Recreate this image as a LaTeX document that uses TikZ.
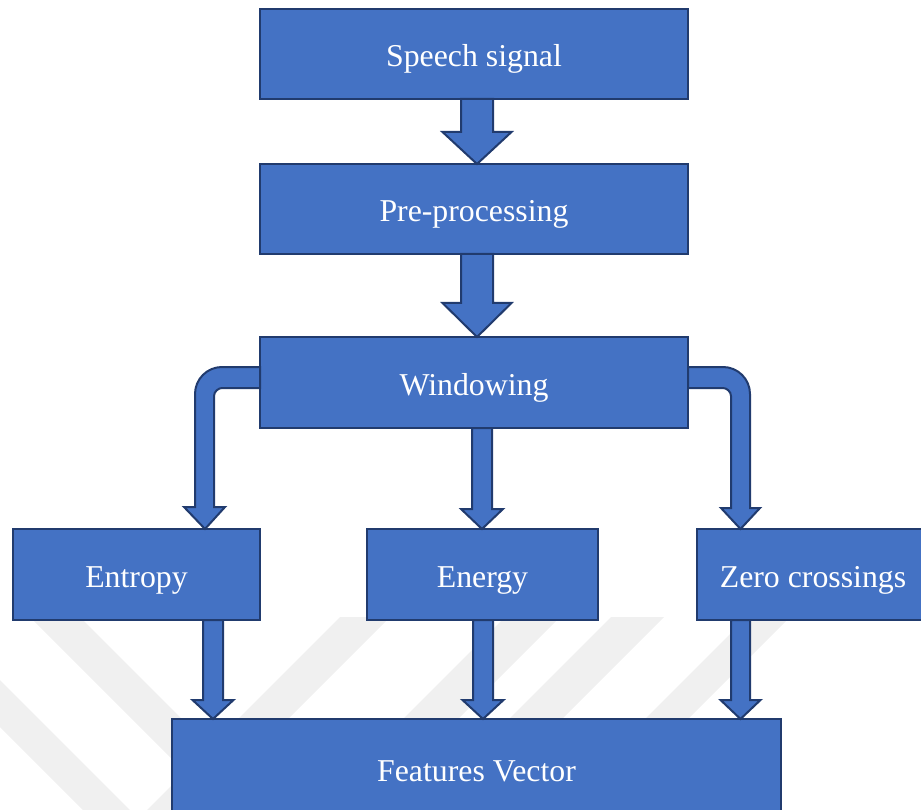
\documentclass[tikz,border=0pt]{standalone}
\usepackage{fontspec}
\setmainfont{Liberation Serif}
\usetikzlibrary{calc}

\definecolor{boxfill}{HTML}{4472C4}
\definecolor{boxline}{HTML}{213B6E}
\definecolor{wmark}{HTML}{F0F0F0}

% straight block arrow pointing down:
% #1 from anchor, #2 to anchor, #3 x offset of the arrow from #1,
% #4 half shaft width, #5 half head width, #6 head length
\newcommand\fatdown[6]{%
  \path[flow] let \p1=(#1), \p2=(#2) in
    (\x1+#3pt-#4pt,\y1) -- (\x1+#3pt-#4pt,\y2+#6pt) -- (\x1+#3pt-#5pt,\y2+#6pt)
    -- (\x1+#3pt,\y2) -- (\x1+#3pt+#5pt,\y2+#6pt) -- (\x1+#3pt+#4pt,\y2+#6pt)
    -- (\x1+#3pt+#4pt,\y1) -- cycle;}

\begin{document}
\begin{tikzpicture}[x=1pt,y=-1pt,
  box/.style={draw=boxline, fill=boxfill, line width=2pt, rectangle,
    inner sep=0pt, outer sep=0pt, text=white,
    text height=32pt, text depth=6pt,
    font=\fontsize{31.8pt}{38pt}\selectfont},
  flow/.style={draw=boxline, fill=boxfill, line width=2pt, line join=miter},
  wm/.style={fill=wmark}]
\useasboundingbox (0,0) rectangle (921,810);
\clip (0,0) rectangle (921,810);

% faint background bands
\begin{scope}
  \clip (0,617) rectangle (921,810);
  \fill[wm] (30,617) -- (80,617) -- (280,817) -- (230,817) -- cycle;
  \fill[wm] (0,680) -- (137,817) -- (90,817) -- (0,727) -- cycle;
  \fill[wm] (340,617) -- (390,617) -- (190,817) -- (140,817) -- cycle;
  \fill[wm] (505,617) -- (560,617) -- (360,817) -- (305,817) -- cycle;
  \fill[wm] (611,617) -- (664,617) -- (464,817) -- (411,817) -- cycle;
  \fill[wm] (747,617) -- (790,617) -- (590,817) -- (547,817) -- cycle;
\end{scope}

% processing blocks
\node[box, minimum width=428pt, minimum height=90pt] (sig) at (474,54) {Speech signal};
\node[box, minimum width=428pt, minimum height=90pt] (pre) at (474,209) {Pre-processing};
\node[box, minimum width=428pt, minimum height=91pt] (win) at (474,382.5) {Windowing};
\node[box, minimum width=247pt, minimum height=91pt] (ent) at (136.5,574.5) {Entropy};
\node[box, minimum width=231pt, minimum height=91pt] (en) at (482.5,574.5) {Energy};
\node[box, minimum width=232pt, minimum height=91pt] (zc) at (813,574.5) {Zero crossings};
\node[box, minimum width=609pt, minimum height=98pt] (fv) at (476.5,768) {Features Vector};

% main chain
\fatdown{sig.south}{pre.north}{3}{16}{34.5}{32}
\fatdown{pre.south}{win.north}{3}{16}{34.5}{34}
\fatdown{win.south}{en.north}{8}{10}{21}{20}

% bent arrow to the left branch
\path[flow] let \p1=(win.north west), \p2=(ent.north) in
  (\x1,\y1-30pt) -- (\x1-38pt,\y1-30pt)
  .. controls (\x1-52.9pt,\y1-30pt) and (\x1-65pt,\y1-42.1pt) .. (\x1-65pt,\y1-57pt)
  -- (\x1-65pt,\y2+22pt) -- (\x1-76pt,\y2+22pt) -- (\x1-55pt,\y2)
  -- (\x1-35pt,\y2+22pt) -- (\x1-46pt,\y2+22pt) -- (\x1-46pt,\y1-59pt)
  .. controls (\x1-46pt,\y1-54.6pt) and (\x1-41.6pt,\y1-51pt) .. (\x1-38pt,\y1-51pt)
  -- (\x1,\y1-51pt) -- cycle;

% bent arrow to the right branch
\path[flow] let \p1=(win.north east), \p2=(zc.north) in
  (\x1,\y1-30pt) -- (\x1+35pt,\y1-30pt)
  .. controls (\x1+49.9pt,\y1-30pt) and (\x1+62pt,\y1-42.1pt) .. (\x1+62pt,\y1-57pt)
  -- (\x1+62pt,\y2+21pt) -- (\x1+72pt,\y2+21pt) -- (\x1+52.5pt,\y2)
  -- (\x1+33pt,\y2+21pt) -- (\x1+43pt,\y2+21pt) -- (\x1+43pt,\y1-59pt)
  .. controls (\x1+43pt,\y1-54.6pt) and (\x1+38.6pt,\y1-51pt) .. (\x1+35pt,\y1-51pt)
  -- (\x1,\y1-51pt) -- cycle;

% features into the vector
\fatdown{ent.south}{fv.north}{76.5}{10}{20.5}{19}
\fatdown{en.south}{fv.north}{0.5}{10}{20.5}{19}
\fatdown{zc.south}{fv.north}{-72.5}{9.5}{20}{19}
\end{tikzpicture}
\end{document}
